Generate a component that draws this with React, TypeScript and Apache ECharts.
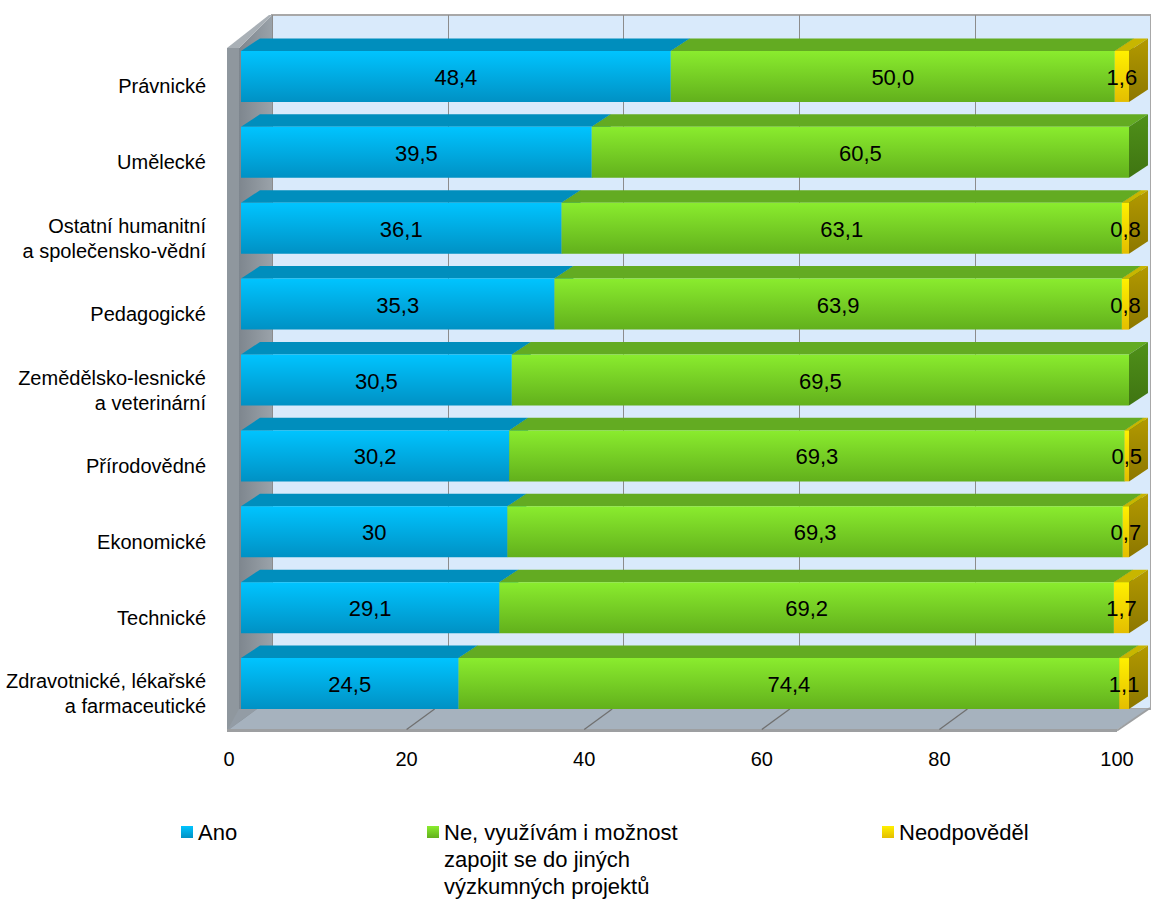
import React, { useEffect, useRef } from 'react';
import * as echarts from 'echarts';

const categories = [
  'Právnické',
  'Umělecké',
  'Ostatní humanitní\na společensko-vědní',
  'Pedagogické',
  'Zemědělsko-lesnické\na veterinární',
  'Přírodovědné',
  'Ekonomické',
  'Technické',
  'Zdravotnické, lékařské\na farmaceutické',
];
const ano = [48.4, 39.5, 36.1, 35.3, 30.5, 30.2, 30, 29.1, 24.5];
const ne = [50.0, 60.5, 63.1, 63.9, 69.5, 69.3, 69.3, 69.2, 74.4];
const neodp = [1.6, 0, 0.8, 0.8, 0, 0.5, 0.7, 1.7, 1.1];
const anoLabels = ['48,4', '39,5', '36,1', '35,3', '30,5', '30,2', '30', '29,1', '24,5'];
const neLabels = ['50,0', '60,5', '63,1', '63,9', '69,5', '69,3', '69,3', '69,2', '74,4'];
const neodpLabels = ['1,6', '', '0,8', '0,8', '', '0,5', '0,7', '1,7', '1,1'];
const xTicks = [0, 20, 40, 60, 80, 100];
const seriesNames = ['Ano', 'Ne, využívám i možnost zapojit se do jiných výzkumných projektů', 'Neodpověděl'];
const legendTexts = ['Ano', 'Ne, využívám i možnost\nzapojit se do jiných\nvýzkumných projektů', 'Neodpověděl'];

function hasFont(name: string) {
  try {
    const ctx = document.createElement('canvas').getContext('2d')!;
    const s = 'Zdravotnické abc 123 WWW';
    ctx.font = '40px monospace';
    const w1 = ctx.measureText(s).width;
    ctx.font = `40px "${name}", monospace`;
    const w2 = ctx.measureText(s).width;
    return Math.abs(w1 - w2) > 0.5;
  } catch (e) {
    return false;
  }
}

const vGrad = (a: string, b: string) =>
  new echarts.graphic.LinearGradient(0, 0, 0, 1, [
    { offset: 0, color: a },
    { offset: 1, color: b },
  ]);

export default function App() {
  const ref = useRef<HTMLDivElement>(null);
  useEffect(() => {
    const narrow = hasFont('Liberation Sans Narrow');
    const FONT = narrow
      ? '"Liberation Sans Narrow", "Liberation Sans", Arial, sans-serif'
      : '"Liberation Sans", Arial, sans-serif';
    const SZ = narrow
      ? { cat: 23, val: 26, tick: 24, leg: 26 }
      : { cat: 20, val: 22, tick: 20, leg: 22 };

    const chart = echarts.init(ref.current!, null, { renderer: 'svg' });

    const palettes = [
      { front: ['#00C4FF', '#0091C4'], top: '#008EBD', side: ['#0084B0', '#006A8E'] },
      { front: ['#8AEC2E', '#62B01C'], top: '#63AB22', side: ['#4F9119', '#3F7412'] },
      { front: ['#FFF000', '#E4BE00'], top: '#C8B600', side: ['#B39A00', '#8C7700'] },
    ];
    const valueSets = [ano, ne, neodp];
    const labelSets = [anoLabels, neLabels, neodpLabels];

    const barSeries = valueSets.map((vals, si) => {
      const pal = palettes[si];
      const data = vals.map((v, i) => {
        let start = 0;
        for (let k = 0; k < si; k++) start += valueSets[k][i];
        return [v, i, start];
      });
      const labels = labelSets[si];
      return {
        type: 'custom',
        name: seriesNames[si],
        xAxisIndex: 0,
        yAxisIndex: 0,
        z: 3,
        itemStyle: { color: vGrad(pal.front[0], pal.front[1]) },
        encode: { x: 0, y: 1 },
        data,
        renderItem: (params: any, api: any) => {
          const v = api.value(0);
          if (!v) return null;
          const cat = api.value(1);
          const s = api.value(2);
          const a = api.coord([s, cat]);
          const b = api.coord([s + v, cat]);
          const band = api.size([0, 1])[1];
          const fh = band * 0.672;
          const dy = band * 0.165;
          const dx = band * 0.25;
          const x0 = a[0];
          const x1 = b[0];
          const yt = a[1] - fh / 2;
          const yb = a[1] + fh / 2;
          const children: any[] = [
            {
              type: 'polygon',
              shape: { points: [[x0, yt], [x0 + dx, yt - dy], [x1 + dx, yt - dy], [x1, yt]] },
              style: { fill: pal.top },
            },
            {
              type: 'polygon',
              shape: { points: [[x1, yt], [x1 + dx, yt - dy], [x1 + dx, yb - dy], [x1, yb]] },
              style: { fill: vGrad(pal.side[0], pal.side[1]) },
            },
            {
              type: 'rect',
              shape: { x: x0, y: yt, width: x1 - x0, height: fh },
              style: { fill: vGrad(pal.front[0], pal.front[1]) },
            },
          ];
          const txt = labels[params.dataIndex];
          if (txt) {
            children.push({
              type: 'text',
              z2: 10,
              style: {
                text: txt,
                x: (x0 + x1) / 2,
                y: a[1] + 1,
                align: 'center',
                verticalAlign: 'middle',
                fontSize: SZ.val,
                fontFamily: FONT,
                fill: '#000',
              },
            });
          }
          return { type: 'group', children };
        },
      };
    });

    const floorLines = {
      type: 'custom',
      name: 'floorGrid',
      xAxisIndex: 1,
      yAxisIndex: 1,
      z: 2,
      silent: true,
      encode: { x: 0, y: 1 },
      data: xTicks.filter((t) => t > 0 && t < 100).map((t) => [t, 0]),
      renderItem: (params: any, api: any) => {
        const p = api.coord([api.value(0), 0]);
        const bottom = params.coordSys.y + params.coordSys.height;
        return {
          type: 'line',
          shape: { x1: p[0], y1: bottom - 2, x2: p[0] + 28, y2: bottom - 22.5 },
          style: { stroke: '#707070', lineWidth: 1.3 },
        };
      },
    };

    const legendText = { fontSize: SZ.leg, fontFamily: FONT, color: '#000', lineHeight: 27 };
    const legendBase = {
      itemWidth: 12,
      itemHeight: 12,
      padding: 0,
      selectedMode: false,
      textStyle: legendText,
    };
    // tall icon box whose square sits beside the first text line
    const tallIcon = 'path://M0,0L0.01,0L0.01,0.01Z M0,7.5L12,7.5L12,19.5L0,19.5Z M0,80.99L0.01,80.99L0.01,81Z';
    const greenLegendColor = new echarts.graphic.LinearGradient(0, 0, 0, 1, [
      { offset: 0, color: '#8AEC2E' },
      { offset: 7.5 / 81, color: '#8AEC2E' },
      { offset: 19.5 / 81, color: '#62B01C' },
      { offset: 1, color: '#62B01C' },
    ]);

    const option: any = {
      animation: false,
      grid: [
        { left: 241, top: 38.5, width: 888, height: 683 },
        { left: 229, top: 48.5, width: 888, height: 683 },
        {
          left: 272,
          top: 15,
          width: 888,
          height: 694,
          show: true,
          backgroundColor: '#D9EAFB',
          borderColor: '#A8A8A8',
          borderWidth: 2,
        },
      ],
      xAxis: [
        { gridIndex: 0, type: 'value', min: 0, max: 100, show: false },
        {
          gridIndex: 1,
          type: 'value',
          min: 0,
          max: 100,
          interval: 20,
          axisLine: { show: false },
          axisTick: { show: false },
          splitLine: { show: false },
          axisLabel: { fontSize: SZ.tick, fontFamily: FONT, color: '#000', margin: 17 },
        },
        {
          gridIndex: 2,
          type: 'value',
          min: 0,
          max: 100,
          interval: 20,
          axisLine: { show: false },
          axisTick: { show: false },
          axisLabel: { show: false },
          splitLine: { show: true, lineStyle: { color: '#8C8C8C', width: 1 } },
        },
      ],
      yAxis: [
        { gridIndex: 0, type: 'category', data: categories, inverse: true, show: false },
        {
          gridIndex: 1,
          type: 'category',
          data: categories,
          inverse: true,
          axisLine: { show: false },
          axisTick: { show: false },
          splitLine: { show: false },
          axisLabel: {
            fontSize: SZ.cat,
            fontFamily: FONT,
            color: '#000',
            lineHeight: 25,
            margin: 23,
            align: 'right',
          },
        },
        { gridIndex: 2, type: 'value', min: 0, max: 1, show: false },
      ],
      legend: [
        {
          ...legendBase,
          icon: 'rect',
          left: 181,
          top: 818.5,
          data: [seriesNames[0]],
          formatter: () => legendTexts[0],
        },
        {
          ...legendBase,
          icon: tallIcon,
          itemHeight: 81,
          left: 427,
          top: 818.5,
          data: [{ name: seriesNames[1], itemStyle: { color: greenLegendColor } }],
          formatter: () => legendTexts[1],
        },
        {
          ...legendBase,
          icon: 'rect',
          left: 882,
          top: 818.5,
          data: [seriesNames[2]],
          formatter: () => legendTexts[2],
        },
      ],
      graphic: {
        elements: [
          {
            type: 'polygon',
            z: 1,
            silent: true,
            shape: { points: [[239, 48], [272, 15], [272, 709], [239, 731]] },
            style: {
              fill: new echarts.graphic.LinearGradient(0, 0, 1, 0, [
                { offset: 0, color: '#7E868E' },
                { offset: 1, color: '#9AA2A9' },
              ]),
            },
          },
          {
            type: 'polygon',
            z: 1,
            silent: true,
            shape: { points: [[227, 48], [269, 15], [272, 15], [239, 48]] },
            style: { fill: '#A9B0B6' },
          },
          {
            type: 'polygon',
            z: 1,
            silent: true,
            shape: { points: [[227, 48], [239, 48], [239, 731], [227, 731]] },
            style: { fill: '#8F979E' },
          },
          {
            type: 'polygon',
            z: 1,
            silent: true,
            shape: { points: [[229, 729.5], [1117, 729.5], [1149, 709], [257, 709]] },
            style: { fill: '#A6B2BE' },
          },
          {
            type: 'polygon',
            z: 1,
            silent: true,
            shape: { points: [[239, 709], [257, 709], [229, 729.5], [227, 731]] },
            style: { fill: '#939CA5' },
          },
          {
            type: 'polygon',
            z: 1,
            silent: true,
            shape: { points: [[227, 729], [1117, 729], [1117, 732], [227, 732]] },
            style: { fill: '#9D9FA1' },
          },
          {
            type: 'polyline',
            z: 1,
            silent: true,
            shape: { points: [[1117, 730.5], [1150, 708]] },
            style: { stroke: '#9D9FA1', lineWidth: 2, fill: null },
          },
        ],
      },
      series: [floorLines, ...barSeries],
    };

    chart.setOption(option);
    return () => chart.dispose();
  }, []);

  return (
    <div
      ref={ref}
      style={{ position: 'absolute', left: 0, top: 0, width: 1151, height: 909 }}
    />
  );
}
